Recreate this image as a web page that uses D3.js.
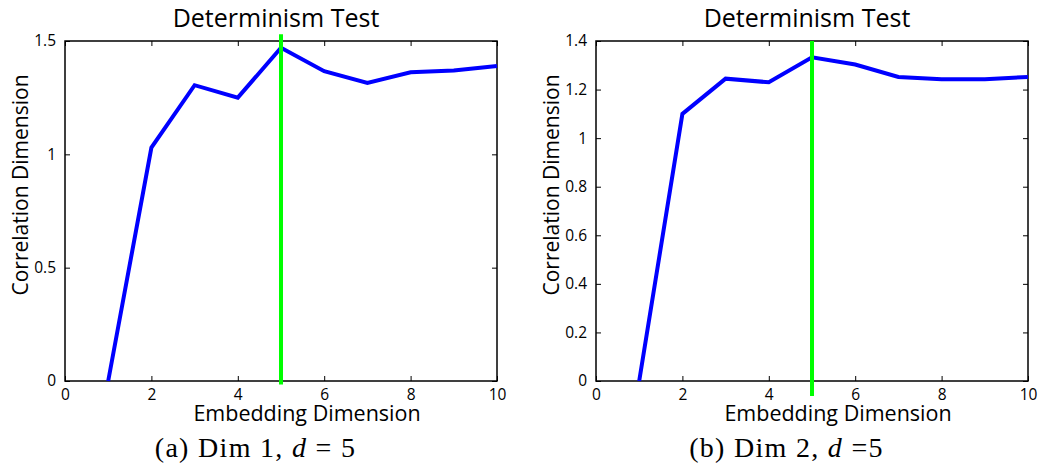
<!DOCTYPE html>
<html>
<head>
<meta charset="utf-8">
<script src="https://cdn.jsdelivr.net/npm/d3@7"></script>
<style>
  html, body { margin: 0; padding: 0; background: #fff; }
  svg { display: block; }
  .sans { font-family: "Open Sans", "Noto Sans", sans-serif; fill: #000; }
  .serif { font-family: "Liberation Serif", "DejaVu Serif", serif; fill: #000; }
</style>
</head>
<body>
<svg id="fig" width="1039" height="472"></svg>
<script>
// Embedding dimensions tested
const embeddingDims = [1, 2, 3, 4, 5, 6, 7, 8, 9, 10];

// Correlation dimension per embedding dimension
const corrDim1 = [0, 1.03, 1.305, 1.25, 1.47, 1.367, 1.315, 1.362, 1.37, 1.39];
const corrDim2 = [0, 1.10, 1.245, 1.23, 1.333, 1.303, 1.252, 1.243, 1.243, 1.252];

// Selected embedding dimension (green marker) and its vertical span
const chosenDims = [5, 5];
const markerSpan1 = [-0.015, 1.53];
const markerSpan2 = [-0.062, 1.4];

// Axis ticks
const xTicks = [0, 2, 4, 6, 8, 10];
const yTicks1 = [0, 0.5, 1, 1.5];
const yTicks2 = [0, 0.2, 0.4, 0.6, 0.8, 1, 1.2, 1.4];

// Texts
const panelTitles = ["Determinism Test", "Determinism Test"];
const xLabel = "Embedding Dimension";
const yLabel = "Correlation Dimension";
const captionLabels = [["(a) Dim 1, ", "d", " = 5"], ["(b) Dim 2, ", "d", " =5"]];

const panels = [
  { left: 65, right: 497, yMax: 1.5, values: corrDim1, yTicks: yTicks1, span: markerSpan1,
    chosen: chosenDims[0], title: panelTitles[0], caption: captionLabels[0], capX: 255.5 },
  { left: 596, right: 1028, yMax: 1.4, values: corrDim2, yTicks: yTicks2, span: markerSpan2,
    chosen: chosenDims[1], title: panelTitles[1], caption: captionLabels[1], capX: 786.5 }
];

const plotTop = 41, plotBottom = 381, tickLen = 5;
const svg = d3.select("#fig");

panels.forEach(p => {
  const x = d3.scaleLinear().domain([0, 10]).range([p.left, p.right]);
  const y = d3.scaleLinear().domain([0, p.yMax]).range([plotBottom, plotTop]);
  const g = svg.append("g");

  // Inward ticks on all four sides
  const fmt = d => String(d);
  const axB = g.append("g").attr("transform", `translate(0,${plotBottom})`)
    .call(d3.axisBottom(x).tickValues(xTicks).tickSize(-tickLen).tickPadding(tickLen + 3).tickFormat(fmt));
  const axT = g.append("g").attr("transform", `translate(0,${plotTop})`)
    .call(d3.axisTop(x).tickValues(xTicks).tickSize(-tickLen).tickFormat(""));
  const axL = g.append("g").attr("transform", `translate(${p.left},0)`)
    .call(d3.axisLeft(y).tickValues(p.yTicks).tickSize(-tickLen).tickPadding(tickLen + 4).tickFormat(fmt));
  const axR = g.append("g").attr("transform", `translate(${p.right},0)`)
    .call(d3.axisRight(y).tickValues(p.yTicks).tickSize(-tickLen).tickFormat(""));
  [axB, axT, axL, axR].forEach(a => {
    a.select(".domain").remove();
    a.selectAll(".tick line").attr("stroke", "#000").attr("stroke-width", 1);
    a.selectAll(".tick text").attr("class", "sans").style("font-size", "15.5px").attr("fill", "#000");
  });

  // Plot box
  g.append("rect")
    .attr("x", p.left).attr("y", plotTop)
    .attr("width", p.right - p.left).attr("height", plotBottom - plotTop)
    .attr("fill", "none").attr("stroke", "#000").attr("stroke-width", 1.5);

  // Correlation dimension curve
  const line = d3.line().x((d, i) => x(embeddingDims[i])).y(d => y(d));
  g.append("path").datum(p.values)
    .attr("d", line)
    .attr("fill", "none").attr("stroke", "#0000ff")
    .attr("stroke-width", 4).attr("stroke-linejoin", "miter");

  // Selected embedding dimension marker
  g.append("line")
    .attr("x1", x(p.chosen)).attr("x2", x(p.chosen))
    .attr("y1", y(p.span[0])).attr("y2", y(p.span[1]))
    .attr("stroke", "#00ff00").attr("stroke-width", 4);

  // Title and axis labels
  const mid = (p.left + p.right) / 2;
  g.append("text").attr("class", "sans")
    .attr("x", mid - 5).attr("y", 27)
    .attr("text-anchor", "middle").style("font-size", "25px")
    .text(p.title);
  g.append("text").attr("class", "sans")
    .attr("x", mid + 26).attr("y", 421)
    .attr("text-anchor", "middle").style("font-size", "21.5px")
    .text(xLabel);
  g.append("text").attr("class", "sans")
    .attr("transform", `translate(${p.left - 37},${(plotTop + plotBottom) / 2 - 26}) rotate(-90)`)
    .attr("text-anchor", "middle").style("font-size", "21px")
    .text(yLabel);

  // Caption
  const cap = g.append("text").attr("class", "serif")
    .attr("x", p.capX).attr("y", 457)
    .attr("text-anchor", "middle").style("font-size", "28px")
    .style("letter-spacing", "1.3px");
  cap.append("tspan").text(p.caption[0]);
  cap.append("tspan").style("font-style", "italic").text(p.caption[1]);
  cap.append("tspan").text(p.caption[2]);
});
</script>
</body>
</html>
